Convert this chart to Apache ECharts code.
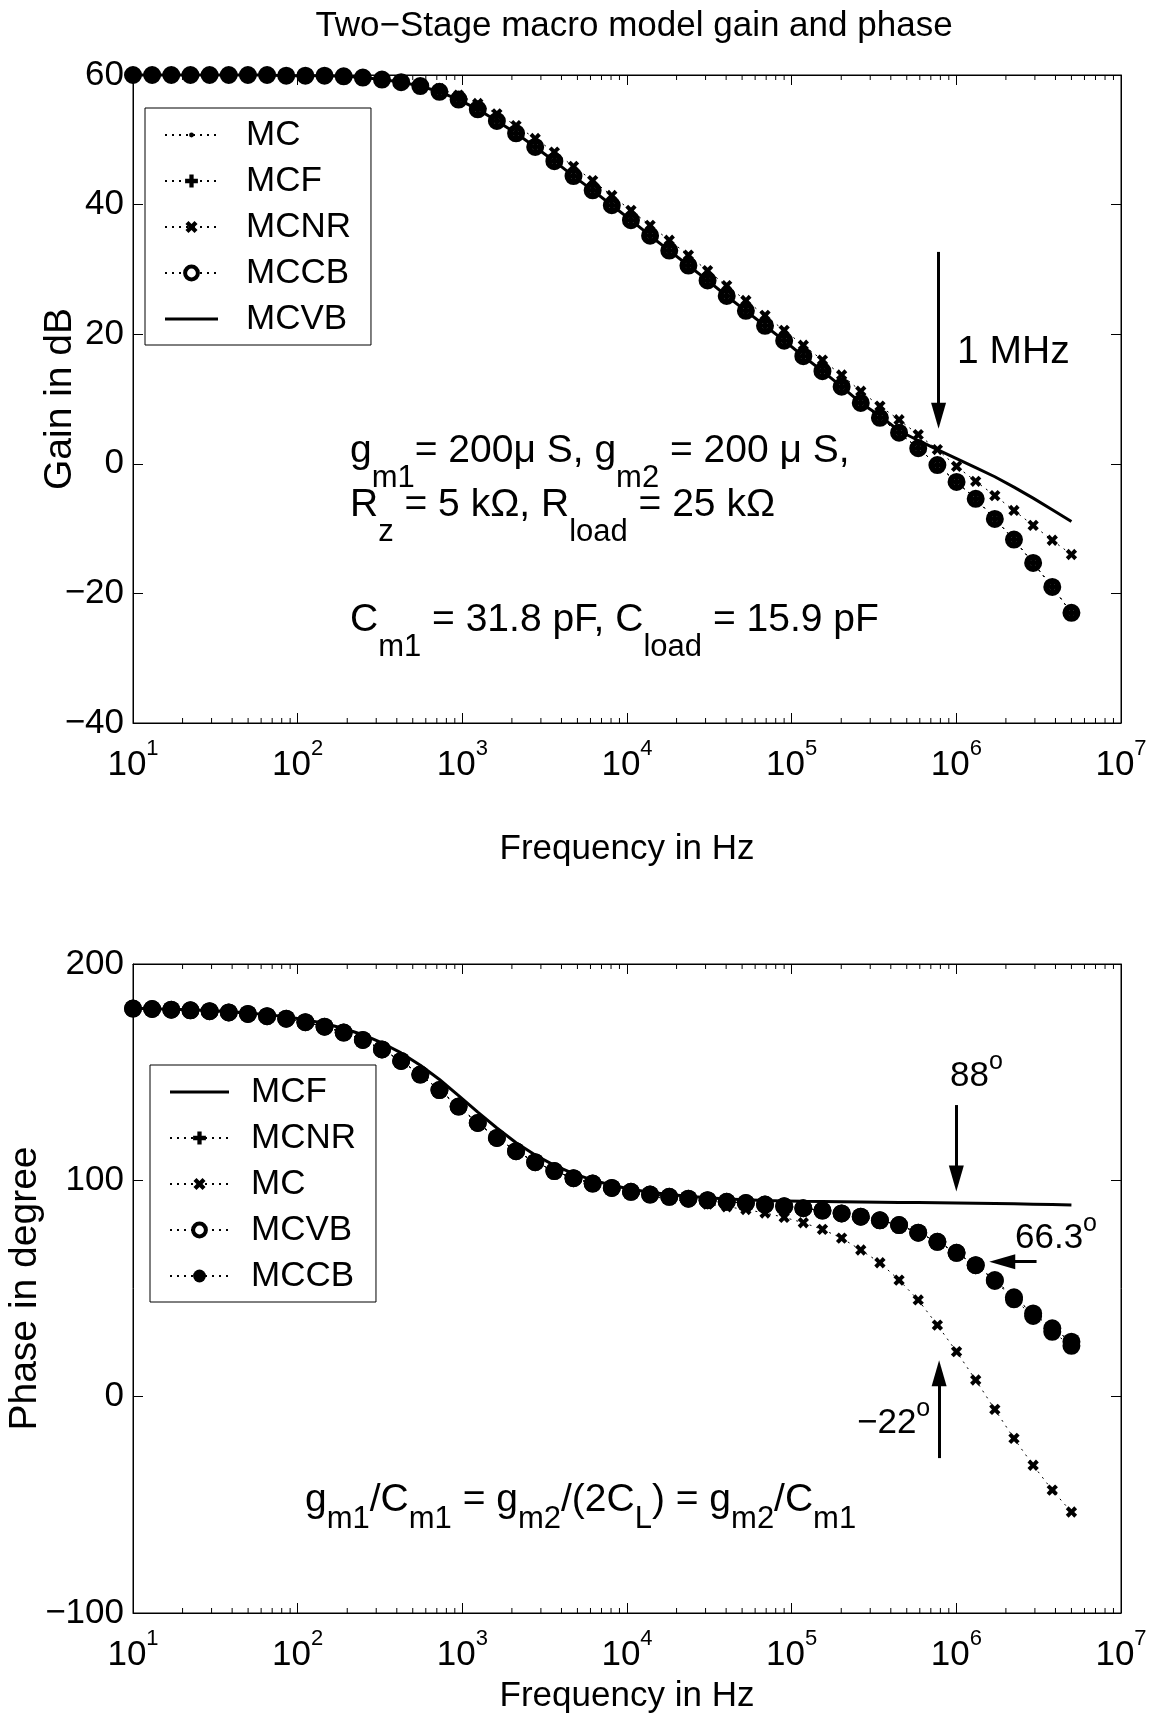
<!DOCTYPE html>
<html>
<head>
<meta charset="utf-8">
<title>Two-Stage macro model gain and phase</title>
<script src="https://cdn.jsdelivr.net/npm/echarts@6/dist/echarts.min.js"></script>
<style>
  html, body { margin: 0; padding: 0; background: #fff; }
  #chart { width: 1159px; height: 1720px; }
</style>
</head>
<body>
<div id="chart"></div>
<script>
// frequency points (Hz), shared by every curve
var freqHz = [10, 13.07, 17.08, 22.33, 29.19, 38.15, 49.87, 65.19, 85.21, 111.4,
  145.6, 190.3, 248.8, 325.1, 425.0, 555.6, 726.2, 949.2, 1241, 1621,
  2120, 2770, 3621, 4733, 6187, 8087, 10570, 13810, 18060, 23600,
  30850, 40320, 52710, 68890, 90050, 117700, 153800, 201100, 262800, 343500,
  449000, 586900, 767200, 1003000, 1311000, 1713000, 2239000, 2927000, 3825000, 5000000]

// gain in dB (top plot)
var gainMCCB = [60.0, 60.0, 60.0, 60.0, 60.0, 60.0, 60.0, 60.0, 59.9, 59.9,
  59.9, 59.8, 59.6, 59.3, 58.9, 58.3, 57.4, 56.2, 54.7, 52.9,
  51.0, 48.9, 46.7, 44.4, 42.2, 39.9, 37.6, 35.2, 32.9, 30.6,
  28.3, 25.9, 23.6, 21.3, 19.0, 16.6, 14.3, 11.9, 9.4, 7.1,
  4.8, 2.4, -0.2, -2.8, -5.4, -8.5, -11.7, -15.3, -19.0, -23.0]
var gainMC = [60.0, 60.0, 60.0, 60.0, 60.0, 60.0, 60.0, 60.0, 59.9, 59.9,
  59.9, 59.8, 59.6, 59.3, 58.9, 58.3, 57.4, 56.2, 54.7, 52.9,
  51.0, 48.9, 46.7, 44.4, 42.2, 39.9, 37.6, 35.2, 32.9, 30.6,
  28.3, 25.9, 23.6, 21.3, 19.0, 16.6, 14.3, 11.9, 9.4, 7.1,
  4.8, 2.4, -0.2, -2.8, -5.4, -8.5, -11.7, -15.3, -19.0, -23.0]
var gainMCF = [60.0, 60.0, 60.0, 60.0, 60.0, 60.0, 60.0, 60.0, 59.9, 59.9,
  59.9, 59.8, 59.6, 59.3, 58.9, 58.3, 57.4, 56.2, 54.7, 52.9,
  51.0, 48.9, 46.7, 44.4, 42.2, 39.9, 37.6, 35.2, 32.9, 30.6,
  28.3, 25.9, 23.6, 21.3, 19.0, 16.6, 14.3, 11.9, 9.4, 7.1,
  4.8, 2.4, -0.2, -2.8, -5.4, -8.5, -11.7, -15.3, -19.0, -23.0]
var gainMCNR = [60.0, 60.0, 60.0, 60.0, 60.0, 60.0, 60.0, 60.0, 59.9, 59.9,
  59.9, 59.8, 59.7, 59.4, 59.1, 58.6, 57.9, 56.9, 55.6, 54.0,
  52.2, 50.2, 48.1, 45.9, 43.7, 41.4, 39.1, 36.8, 34.5, 32.2,
  29.8, 27.5, 25.2, 22.9, 20.6, 18.3, 16.0, 13.7, 11.2, 8.9,
  6.8, 4.5, 2.2, -0.4, -2.7, -4.9, -7.2, -9.5, -11.8, -14.0]
var gainMCVB = [60.0, 60.0, 60.0, 60.0, 60.0, 60.0, 60.0, 60.0, 59.9, 59.9,
  59.9, 59.8, 59.6, 59.3, 58.9, 58.3, 57.4, 56.2, 54.7, 52.9,
  51.0, 48.9, 46.7, 44.4, 42.2, 39.9, 37.6, 35.2, 32.9, 30.6,
  28.3, 25.9, 23.6, 21.3, 19.0, 16.6, 14.3, 11.9, 9.4, 7.4,
  5.1, 3.6, 2.2, 0.8, -0.6, -2.0, -3.6, -5.3, -7.1, -8.9]

// phase in degree (bottom plot)
var phaseMCF = [179.5, 179.3, 179.1, 178.8, 178.5, 178.0, 177.4, 176.6, 175.6, 174.2,
  172.5, 170.2, 167.3, 163.5, 158.9, 153.2, 146.6, 139.2, 131.5, 124.2,
  117.4, 111.7, 106.9, 103.1, 100.1, 97.7, 95.9, 94.5, 93.4, 92.6,
  91.9, 91.4, 91.0, 90.7, 90.5, 90.3, 90.2, 90.1, 90.0, 89.9,
  89.8, 89.7, 89.6, 89.5, 89.4, 89.3, 89.2, 89.0, 88.8, 88.6]
var phaseMCNR = [179.4, 179.2, 178.9, 178.6, 178.2, 177.6, 176.9, 175.9, 174.7, 173.1,
  171.0, 168.3, 164.9, 160.5, 155.2, 148.9, 141.7, 134.1, 126.5, 119.6,
  113.5, 108.4, 104.3, 101.0, 98.5, 96.5, 94.7, 93.4, 92.4, 91.5,
  90.8, 90.1, 89.5, 88.8, 88.0, 87.1, 86.0, 84.7, 83.2, 81.5,
  79.3, 75.8, 71.6, 66.5, 60.8, 53.9, 45.9, 38.5, 31.6, 25.4]
var phaseMC = [179.4, 179.2, 178.9, 178.6, 178.2, 177.6, 176.9, 175.9, 174.7, 173.1,
  171.0, 168.3, 164.9, 160.5, 155.2, 148.9, 141.7, 134.1, 126.5, 119.6,
  113.5, 108.4, 104.3, 101.0, 98.5, 96.5, 94.1, 92.6, 91.4, 90.2,
  89.0, 87.8, 86.5, 84.9, 82.9, 80.4, 77.3, 73.3, 67.8, 61.9,
  53.9, 44.7, 33.1, 20.8, 7.7, -5.9, -19.3, -31.7, -43.2, -53.3]
var phaseMCVB = [179.4, 179.2, 178.9, 178.6, 178.2, 177.6, 176.9, 175.9, 174.7, 173.1,
  171.0, 168.3, 164.9, 160.5, 155.2, 148.9, 141.7, 134.1, 126.5, 119.6,
  113.5, 108.4, 104.3, 101.0, 98.5, 96.5, 94.7, 93.4, 92.4, 91.5,
  90.8, 90.1, 89.5, 88.8, 88.0, 87.1, 86.0, 84.7, 83.2, 81.5,
  79.3, 75.8, 71.6, 66.5, 60.8, 53.5, 45.0, 37.3, 30.0, 23.5]
var phaseMCCB = [179.4, 179.2, 178.9, 178.6, 178.2, 177.6, 176.9, 175.9, 174.7, 173.1,
  171.0, 168.3, 164.9, 160.5, 155.2, 148.9, 141.7, 134.1, 126.5, 119.6,
  113.5, 108.4, 104.3, 101.0, 98.5, 96.5, 94.7, 93.4, 92.4, 91.5,
  90.8, 90.1, 89.5, 88.8, 88.0, 87.1, 86.0, 84.7, 83.2, 81.5,
  79.3, 75.8, 71.6, 66.5, 60.8, 53.9, 45.9, 38.5, 31.6, 25.4]

// axes
var gainMin = -40, gainMax = 60, gainStep = 20
var phaseMin = -100, phaseMax = 200, phaseStep = 100
var freqMin = 10, freqMax = 1e7
var minorMultiples = [2, 3, 4, 5, 6, 7, 8, 9]
var decades = [10, 100, 1e3, 1e4, 1e5, 1e6]

// arrows (start point, end point) in data units
var gainArrow = [[780000, 32.7], [780000, 7.4]]
var phaseArrows = [
  [[1000000, 134.8], [1000000, 100.8]],
  [[3070000, 62.4], [1900000, 62.4]],
  [[786000, -28.4], [786000, 10.8]]
]

var FONT = '"Liberation Sans", Arial, Helvetica, sans-serif'
var PLUS = 'path://M4,0H8V4H12V8H8V12H4V8H0V4H4Z'
// small dot inside a 16x16 box, so the legend copy stays small too
var DOT = 'path://M0,0H0.01V0.01H0Z M16,16H15.99V15.99H16Z M5,8A3,3 0 1,0 11,8A3,3 0 1,0 5,8Z'

function solidIcon(w) {
  return 'path://M0,0H0.01V0.01H0Z M0,6.5H' + w + 'V9.5H0Z M' + (w - 0.01) + ',15.99H' + w + 'V16H' + (w - 0.01) + 'Z'
}

var minorTicks = []
decades.forEach(function (d) {
  minorMultiples.forEach(function (m) { minorTicks.push([d * m, 0]) })
})

function pairs(ys) {
  return freqHz.map(function (f, i) { return [f, ys[i]] })
}

function minus(v) {
  return v < 0 ? '\u2212' + Math.abs(v) : String(v)
}

var dotted = { color: '#000', width: 1, type: [2, 5] }
var solid = { color: '#000', width: 3, type: 'solid' }

function arrowLine(seg) {
  return [{ coord: seg[0], symbol: 'none' }, { coord: seg[1], symbol: 'triangle', symbolSize: [15, 26] }]
}

function markArrows(segs) {
  return {
    silent: true,
    animation: false,
    symbol: ['none', 'triangle'],
    symbolSize: [15, 26],
    label: { show: false },
    lineStyle: { color: '#000', width: 3, type: 'solid' },
    emphasis: { disabled: true },
    data: segs.map(arrowLine)
  }
}

function xAxisCfg(gridIndex, position, nameGap) {
  var ax = {
    gridIndex: gridIndex,
    type: 'log',
    logBase: 10,
    min: freqMin,
    max: freqMax,
    splitNumber: 6,
    position: position,
    axisLine: { show: true, onZero: false, lineStyle: { color: '#000', width: 1 } },
    axisTick: { show: true, inside: true, length: 10, lineStyle: { color: '#000', width: 1 } },
    splitLine: { show: false },
    axisLabel: { show: false }
  }
  if (position === 'bottom') {
    ax.axisLabel = {
      show: true,
      margin: 15,
      showMinLabel: true,
      showMaxLabel: true,
      formatter: function (v) {
        return '{b|10}{e|' + Math.round(Math.log10(v)) + '}'
      },
      rich: {
        b: { fontSize: 35, fontFamily: FONT, color: '#000', lineHeight: 54 },
        e: { fontSize: 22, fontFamily: FONT, color: '#000', verticalAlign: 'top' }
      }
    }
    ax.name = 'Frequency in Hz'
    ax.nameLocation = 'middle'
    ax.nameGap = nameGap
    ax.nameMoveOverlap = false
    ax.nameTextStyle = { fontSize: 35, fontFamily: FONT, color: '#000' }
  }
  return ax
}

function yAxisCfg(gridIndex, position, min, max, step, name, nameGap) {
  var ax = {
    gridIndex: gridIndex,
    type: 'value',
    min: min,
    max: max,
    interval: step,
    position: position,
    axisLine: { show: true, onZero: false, lineStyle: { color: '#000', width: 1 } },
    axisTick: { show: true, inside: true, length: 10, lineStyle: { color: '#000', width: 1 } },
    splitLine: { show: false },
    axisLabel: { show: false }
  }
  if (position === 'left') {
    ax.axisLabel = {
      show: true, margin: 9, fontSize: 35, fontFamily: FONT, color: '#000',
      formatter: minus
    }
    ax.name = name
    ax.nameLocation = 'middle'
    ax.nameGap = nameGap
    ax.nameMoveOverlap = false
    ax.nameTextStyle = { fontSize: 39, fontFamily: FONT, color: '#000' }
  }
  return ax
}

function minorTickSeries(xi, yi) {
  return {
    type: 'custom',
    xAxisIndex: xi,
    yAxisIndex: yi,
    silent: true,
    clip: false,
    z: 10,
    data: minorTicks,
    renderItem: function (params, api) {
      var cs = params.coordSys
      var x = api.coord([api.value(0), api.value(1)])[0]
      var st = { stroke: '#000', lineWidth: 1 }
      return {
        type: 'group',
        children: [
          { type: 'line', shape: { x1: x, y1: cs.y + cs.height, x2: x, y2: cs.y + cs.height - 5 }, style: st },
          { type: 'line', shape: { x1: x, y1: cs.y, x2: x, y2: cs.y + 5 }, style: st }
        ]
      }
    }
  }
}

function lineSeries(name, xi, yi, ys, opts) {
  var s = {
    name: name,
    type: 'line',
    xAxisIndex: xi,
    yAxisIndex: yi,
    data: pairs(ys),
    clip: false,
    silent: true,
    animation: false,
    lineStyle: dotted,
    itemStyle: { color: '#000' },
    emphasis: { disabled: true }
  }
  for (var k in opts) s[k] = opts[k]
  return s
}

var ring = { color: '#fff', borderColor: '#000', borderWidth: 6 }
var legendRing = { color: '#fff', borderColor: '#000', borderWidth: 4 }

// rich text styles for the annotations
var annTop = {
  t: { fontSize: 39, fontFamily: FONT, fill: '#000', lineHeight: 86 },
  s: { fontSize: 31, fontFamily: FONT, fill: '#000', verticalAlign: 'bottom' }
}
var annBottom = {
  t: { fontSize: 39, fontFamily: FONT, fill: '#000', lineHeight: 70 },
  s: { fontSize: 31, fontFamily: FONT, fill: '#000', verticalAlign: 'bottom' }
}
var degRich = {
  t: { fontSize: 35, fontFamily: FONT, fill: '#000', lineHeight: 52 },
  u: { fontSize: 25, fontFamily: FONT, fill: '#000', verticalAlign: 'top' }
}

function label(x, y, text, rich, align) {
  return {
    type: 'text', x: x, y: y, silent: true, z: 100,
    style: {
      text: text, rich: rich, fill: '#000', fontFamily: FONT, fontSize: 35,
      align: align || 'left', verticalAlign: 'middle'
    }
  }
}

function legendCfg(left, top, itemWidth, padLeft, items) {
  return {
    left: left, top: top,
    orient: 'vertical',
    padding: [7, 20, 6, 19],
    itemGap: 6,
    itemWidth: itemWidth,
    itemHeight: 16,
    selectedMode: false,
    backgroundColor: '#fff',
    borderColor: '#000',
    borderWidth: 1,
    borderRadius: 0,
    textStyle: { fontSize: 35, fontFamily: FONT, color: '#000', lineHeight: 40, padding: [0, 0, 0, padLeft] },
    formatter: function (n) { return n.split('#')[0] },
    data: items
  }
}

var chart = echarts.init(document.getElementById('chart'), null, { renderer: 'canvas' })

var option = {
  animation: false,
  backgroundColor: '#fff',
  textStyle: { fontFamily: FONT },
  grid: [
    { left: 133, top: 75, width: 988, height: 648, outerBoundsMode: 'none', show: true, borderColor: '#000', borderWidth: 1, backgroundColor: '#fff' },
    { left: 133, top: 964, width: 988, height: 649, outerBoundsMode: 'none', show: true, borderColor: '#000', borderWidth: 1, backgroundColor: '#fff' }
  ],
  xAxis: [
    xAxisCfg(0, 'bottom', 109),
    xAxisCfg(0, 'top'),
    xAxisCfg(1, 'bottom', 66),
    xAxisCfg(1, 'top')
  ],
  yAxis: [
    yAxisCfg(0, 'left', gainMin, gainMax, gainStep, 'Gain in dB', 53),
    yAxisCfg(0, 'right', gainMin, gainMax, gainStep),
    yAxisCfg(1, 'left', phaseMin, phaseMax, phaseStep, 'Phase in degree', 88),
    yAxisCfg(1, 'right', phaseMin, phaseMax, phaseStep)
  ],
  legend: [
    legendCfg(145, 108, 53, 23, [
      { name: 'MC' },
      { name: 'MCF' },
      { name: 'MCNR' },
      { name: 'MCCB', itemStyle: legendRing },
      { name: 'MCVB', icon: solidIcon(53) }
    ]),
    legendCfg(150, 1065, 59, 17, [
      { name: 'MCF#2', icon: solidIcon(59) },
      { name: 'MCNR#2' },
      { name: 'MC#2' },
      { name: 'MCVB#2', itemStyle: legendRing },
      { name: 'MCCB#2' }
    ])
  ],
  series: [
    // gain plot
    lineSeries('MCCB', 0, 0, gainMCCB, { symbol: 'circle', symbolSize: 12, itemStyle: ring }),
    lineSeries('MC', 0, 0, gainMC, { symbol: DOT, symbolSize: 16 }),
    lineSeries('MCF', 0, 0, gainMCF, { symbol: PLUS, symbolSize: 11 }),
    lineSeries('MCNR', 0, 0, gainMCNR, { symbol: PLUS, symbolSize: 12, symbolRotate: 45 }),
    lineSeries('MCVB', 0, 0, gainMCVB, { symbol: 'none', lineStyle: solid, markLine: markArrows([gainArrow]) }),
    minorTickSeries(0, 0),
    // phase plot
    lineSeries('MCF#2', 2, 2, phaseMCF, { symbol: 'none', lineStyle: solid, markLine: markArrows(phaseArrows) }),
    lineSeries('MCNR#2', 2, 2, phaseMCNR, { symbol: PLUS, symbolSize: 11 }),
    lineSeries('MC#2', 2, 2, phaseMC, { symbol: PLUS, symbolSize: 12, symbolRotate: 45 }),
    lineSeries('MCVB#2', 2, 2, phaseMCVB, { symbol: 'circle', symbolSize: 12, itemStyle: ring }),
    lineSeries('MCCB#2', 2, 2, phaseMCCB, { symbol: 'circle', symbolSize: 18 }),
    minorTickSeries(2, 2)
  ],
  graphic: [
    label(634, 26, 'Two\u2212Stage macro model gain and phase', {}, 'center'),
    label(350, 451, '{t|g}{s|m1}{t|= 200\u03bc S, g}{s|m2}{t| = 200 \u03bc S,}', annTop),
    label(350, 505, '{t|R}{s|z}{t| = 5 k\u03a9, R}{s|load}{t| = 25 k\u03a9}', annTop),
    label(350, 620, '{t|C}{s|m1}{t| = 31.8 pF, C}{s|load}{t| = 15.9 pF}', annTop),
    label(957, 352, '{t|1 MHz}', annTop),
    label(950, 1076, '{t|88}{u|o}', degRich),
    label(1015, 1238, '{t|66.3}{u|o}', degRich),
    label(857, 1423, '{t|\u221222}{u|o}', degRich),
    label(305, 1500, '{t|g}{s|m1}{t|/C}{s|m1}{t| = g}{s|m2}{t|/(2C}{s|L}{t|) = g}{s|m2}{t|/C}{s|m1}', annBottom)
  ]
}

chart.setOption(option)
</script>
</body>
</html>
